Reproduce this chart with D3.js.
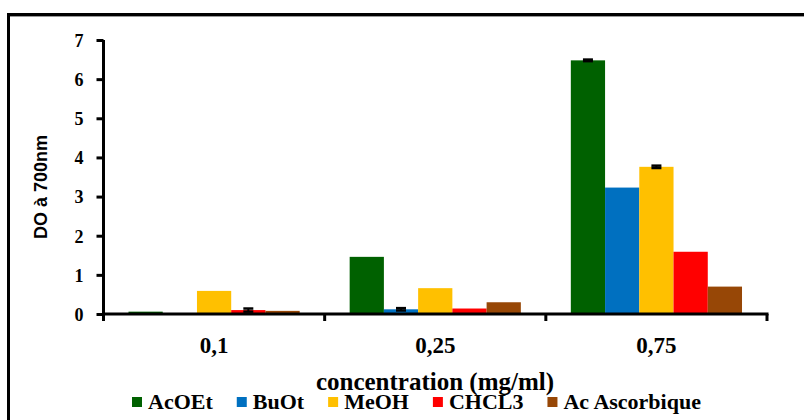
<!DOCTYPE html>
<html><head><meta charset="utf-8">
<script src="https://cdn.jsdelivr.net/npm/d3@7"></script>
<style>body{margin:0;background:#fff}svg{display:block}</style>
</head><body>
<svg id="c" width="804" height="420"></svg>
<script>
const categories = ["0,1", "0,25", "0,75"];
const seriesNames = ["AcOEt", "BuOt", "MeOH", "CHCL3", "Ac Ascorbique"];
const seriesColors = ["#006100", "#0070C0", "#FFC000", "#FF0000", "#974706"];
const AcOEt = [0.06, 1.46, 6.48];
const BuOt = [0.0, 0.12, 3.23];
const MeOH = [0.59, 0.66, 3.76];
const CHCL3 = [0.10, 0.14, 1.59];
const AcAscorbique = [0.08, 0.30, 0.70];
const errAcOEt = [0, 0, 0.02];
const errBuOt = [0, 0.03, 0];
const errMeOH = [0, 0, 0.03];
const errCHCL3 = [0.04, 0, 0];
const errAcAscorbique = [0, 0, 0];
const yTicks = [0, 1, 2, 3, 4, 5, 6, 7];

const values = [AcOEt, BuOt, MeOH, CHCL3, AcAscorbique];
const errors = [errAcOEt, errBuOt, errMeOH, errCHCL3, errAcAscorbique];

const svg = d3.select("#c");
const mLeft = 103.5, mRight = 767, mTop = 40, mBottom = 314;
const serif = "'Liberation Serif', 'Times New Roman', serif";

// frame
svg.append("rect").attr("x", 8.5).attr("y", 14.5).attr("width", 820).attr("height", 440)
  .attr("fill", "none").attr("stroke", "#000").attr("stroke-width", 3);
svg.append("line").attr("x1", 10).attr("x2", 804).attr("y1", 16.5).attr("y2", 16.5)
  .attr("stroke", "#999").attr("stroke-width", 1);

const x0 = d3.scaleBand().domain(categories).range([mLeft, mRight]).paddingInner(0).paddingOuter(0);
const x1 = d3.scaleBand().domain(seriesNames).range([0, x0.bandwidth()]).paddingInner(0).paddingOuter(0.73);
const y = d3.scaleLinear().domain([0, 7]).range([mBottom, mTop]);

// bars
const rows = [];
categories.forEach((c, ci) => seriesNames.forEach((s, si) => rows.push({c, s, si, v: values[si][ci], e: errors[si][ci]})));
svg.append("g").selectAll("rect").data(rows).join("rect")
  .attr("x", d => x0(d.c) + x1(d.s))
  .attr("width", x1.bandwidth())
  .attr("y", d => y(d.v))
  .attr("height", d => y(0) - y(d.v))
  .attr("fill", d => seriesColors[d.si]);

// error bars
const eg = svg.append("g");
rows.filter(d => d.e > 0).forEach(d => {
  const cx = x0(d.c) + x1(d.s) + x1.bandwidth() / 2;
  const y1 = y(d.v + d.e), y2 = y(d.v - d.e);
  eg.append("line").attr("x1", cx).attr("x2", cx).attr("y1", y1).attr("y2", y2).attr("stroke", "#000").attr("stroke-width", 2);
  [y1, y2].forEach(yy => eg.append("line").attr("x1", cx - 5).attr("x2", cx + 5).attr("y1", yy).attr("y2", yy).attr("stroke", "#000").attr("stroke-width", 2.5));
});

// y axis
const yAxis = svg.append("g").attr("transform", `translate(${mLeft},0)`)
  .call(d3.axisLeft(y).tickValues(yTicks).tickSize(7).tickPadding(13).tickFormat(d3.format("d")));
yAxis.select(".domain").attr("stroke", "#000").attr("stroke-width", 3).attr("d", `M0,${mTop}V${mBottom + 1.5}`);
yAxis.selectAll(".tick line").attr("stroke", "#000").attr("stroke-width", 3);
yAxis.selectAll("text").attr("font-family", serif).attr("font-weight", "bold")
  .attr("font-size", 18).attr("fill", "#000").attr("dy", "0.35em");

// x axis
const xAxis = svg.append("g").attr("transform", `translate(0,${mBottom})`);
xAxis.append("line").attr("x1", mLeft - 1.5).attr("x2", mRight + 1.5).attr("y1", 0).attr("y2", 0)
  .attr("stroke", "#000").attr("stroke-width", 3);
const bounds = categories.map(c => x0(c)).concat([mRight]);
xAxis.selectAll("line.tk").data(bounds).join("line").attr("class", "tk")
  .attr("x1", d => d).attr("x2", d => d).attr("y1", 0).attr("y2", 7)
  .attr("stroke", "#000").attr("stroke-width", 3);
xAxis.selectAll("text").data(categories).join("text")
  .attr("x", d => x0(d) + x0.bandwidth() / 2).attr("y", 39)
  .attr("text-anchor", "middle").attr("font-family", serif).attr("font-weight", "bold")
  .attr("font-size", 23).attr("fill", "#000").text(d => d);

// axis titles
svg.append("text").attr("transform", "translate(47,187) rotate(-90)")
  .attr("text-anchor", "middle").attr("font-family", "'Liberation Sans', Arial, sans-serif").attr("font-weight", "bold")
  .attr("font-size", 18).attr("fill", "#000").text("DO à 700nm");
svg.append("text").attr("x", 435).attr("y", 390).attr("text-anchor", "middle")
  .attr("font-family", serif).attr("font-weight", "bold").attr("font-size", 25)
  .attr("fill", "#000").text("concentration (mg/ml)");

// legend
const lg = svg.append("g");
let lx = 132;
seriesNames.forEach((s, i) => {
  lg.append("rect").attr("x", lx).attr("y", 397).attr("width", 10).attr("height", 10).attr("fill", seriesColors[i]);
  const t = lg.append("text").attr("x", lx + 16).attr("y", 409).attr("font-family", serif)
    .attr("font-weight", "bold").attr("font-size", 22).attr("fill", "#000").text(s);
  lx += 16 + t.node().getComputedTextLength() + 24;
});
</script>
</body></html>
